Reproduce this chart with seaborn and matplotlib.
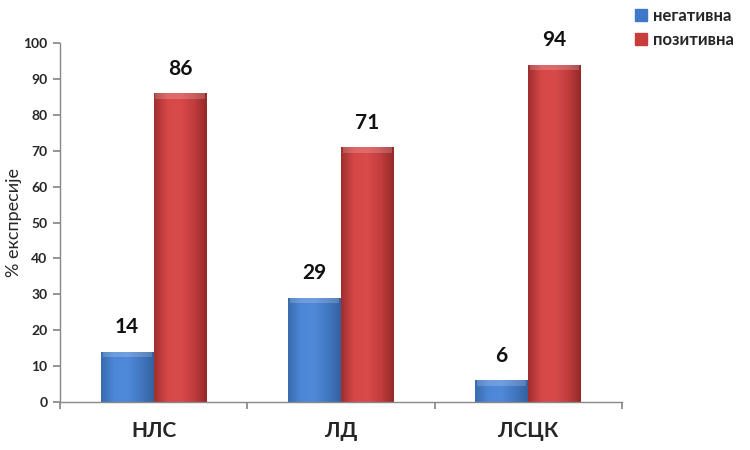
import numpy as np
import pandas as pd
import matplotlib
matplotlib.use("Agg")
import matplotlib.pyplot as plt
import seaborn as sns
from matplotlib.patches import Rectangle
from matplotlib.lines import Line2D
from matplotlib.colors import LinearSegmentedColormap

categories = ["НЛС", "ЛД", "ЛСЦК"]
series_names = ["негативна", "позитивна"]
negative = [14, 29, 6]
positive = [86, 71, 94]
y_ticks = [0, 10, 20, 30, 40, 50, 60, 70, 80, 90, 100]

df = pd.DataFrame({
    "cat": categories * 2,
    "series": [series_names[0]] * 3 + [series_names[1]] * 3,
    "value": negative + positive,
})

sns.set_theme(style="white")
plt.rcParams["font.family"] = ["Lato", "DejaVu Sans"]

colors = {"негативна": "#3f78c8", "позитивна": "#c83c3c"}
fig = plt.figure(figsize=(7.5, 4.5), dpi=100)
ax = fig.add_axes([0.08, 0.107, 0.749, 0.797])

sns.barplot(data=df, x="cat", y="value", hue="series", palette=colors,
            width=0.566, gap=0, ax=ax, legend=False, saturation=1,
            edgecolor="none", linewidth=0)

grad_maps = {
    "негативна": [(0.22, 0.42, 0.68), (0.30, 0.53, 0.84), (0.31, 0.54, 0.85), (0.26, 0.47, 0.76), (0.20, 0.38, 0.62)],
    "позитивна": [(0.62, 0.18, 0.18), (0.84, 0.28, 0.28), (0.85, 0.29, 0.29), (0.76, 0.24, 0.24), (0.58, 0.16, 0.16)],
}
for container, name in zip(ax.containers, series_names):
    cmap = LinearSegmentedColormap.from_list(name, grad_maps[name])
    grad = np.linspace(0, 1, 256).reshape(1, -1)
    for bar in container:
        x0, y0 = bar.get_x(), bar.get_y()
        w, h = bar.get_width(), bar.get_height()
        im = ax.imshow(grad, cmap=cmap, aspect="auto",
                       extent=(x0, x0 + w, y0, y0 + h), zorder=bar.get_zorder() + 0.1)
        im.set_clip_path(bar)
        top = Rectangle((x0 + 0.01, y0 + h - 1.5), w - 0.02, 1.5, color="white", alpha=0.18,
                        zorder=bar.get_zorder() + 0.2, linewidth=0)
        ax.add_patch(top)
        ax.text(x0 + w / 2, y0 + h + 4, f"{int(round(h))}", ha="center", va="bottom",
                fontsize=15, fontweight="bold", color="#111111")

ax.set_xlim(-0.5, 2.5)
ax.set_ylim(0, 100)
ax.set_yticks(y_ticks)
ax.set_yticklabels([str(t) for t in y_ticks], fontsize=10, fontweight="bold")
ax.set_xticks([-0.5, 0.5, 1.5, 2.5])
ax.set_xticklabels([])
ax.set_xticks([0, 1, 2], minor=True)
ax.set_xticklabels(categories, minor=True, fontsize=15, fontweight="bold")
ax.tick_params(axis="x", which="minor", length=0, pad=14)
ax.tick_params(axis="x", which="major", length=5, direction="out", color="#888888", bottom=True)
ax.tick_params(axis="y", length=5, direction="out", color="#888888", left=True, pad=4)
ax.set_xlabel("")
ax.set_ylabel("% експресије", fontsize=13, labelpad=1)
for s in ["top", "right"]:
    ax.spines[s].set_visible(False)
for s in ["left", "bottom"]:
    ax.spines[s].set_color("#888888")
    ax.spines[s].set_linewidth(1)

handles = [Line2D([0], [0], marker="s", linestyle="none", markersize=8,
                  markerfacecolor=colors[n], markeredgecolor=colors[n]) for n in series_names]
leg = fig.legend(handles, series_names, loc="upper left", bbox_to_anchor=(0.828, 1.012),
                 frameon=False, handlelength=0.8, handletextpad=0.35, labelspacing=0.5,
                 borderpad=0.3, prop={"size": 12, "weight": "bold"})

fig.savefig("out.png", dpi=100)
